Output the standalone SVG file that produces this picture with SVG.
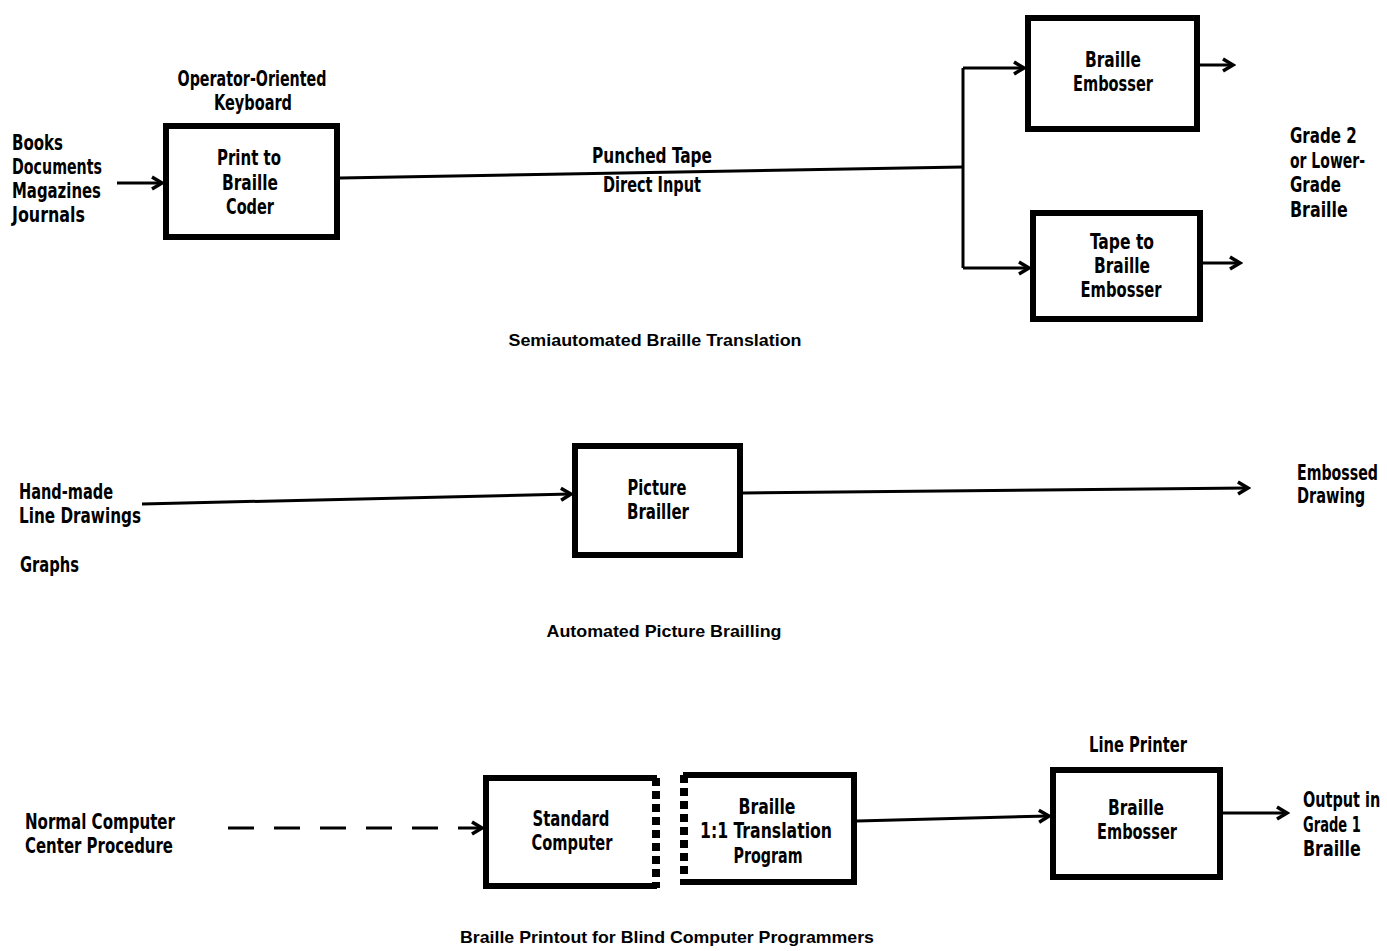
<svg xmlns="http://www.w3.org/2000/svg" width="1387" height="951" viewBox="0 0 1387 951">
<style>
text{font-family:"Liberation Sans Narrow","DejaVu Sans Condensed","Liberation Sans",sans-serif;font-weight:bold;font-size:21px;fill:#000}
.c{text-anchor:middle}
.cap{font-family:"Liberation Sans","DejaVu Sans",sans-serif;font-weight:900;font-size:17px}
.box{fill:#fff;stroke:#000;stroke-width:6;stroke-linejoin:miter}
.dots{fill:none;stroke:#000;stroke-width:8;stroke-dasharray:8 5}
.ln{fill:none;stroke:#000;stroke-width:3}
.arr{fill:none;stroke:#000;stroke-width:3;marker-end:url(#ah)}
.dash{stroke-dasharray:26 20}
</style>
<defs>
<marker id="ah" markerUnits="userSpaceOnUse" markerWidth="16" markerHeight="16" viewBox="-13 -8 16 16" refX="0" refY="0" orient="auto">
<path d="M-10,-6 L0,0 L-10,6" fill="none" stroke="#000" stroke-width="3.5"/>
</marker>
</defs>
<rect width="1387" height="951" fill="#fff"/>

<g id="connectors">
<path class="arr" d="M117,183 L162,183"/>
<path class="ln" d="M340,178 L963,167"/>
<path class="ln" d="M963,68 V268"/>
<path class="arr" d="M963,68 H1024"/>
<path class="arr" d="M963,268 H1029"/>
<path class="arr" d="M1200,65 H1233"/>
<path class="arr" d="M1203,263 H1240"/>
<path class="arr" d="M142,504 L571,494"/>
<path class="arr" d="M743,493 L1248,488"/>
<path class="arr dash" d="M228,828 H482"/>
<path class="arr" d="M857,821 L1049,816"/>
<path class="arr" d="M1223,813 H1287"/>
</g>

<g id="sources">
<text x="12" y="150" textLength="51" lengthAdjust="spacingAndGlyphs">Books</text>
<text x="12" y="174" textLength="90" lengthAdjust="spacingAndGlyphs">Documents</text>
<text x="12" y="198" textLength="89" lengthAdjust="spacingAndGlyphs">Magazines</text>
<text x="12" y="222" textLength="73" lengthAdjust="spacingAndGlyphs">Journals</text>
</g>

<g id="coder">
<text class="c" x="252" y="86" textLength="149" lengthAdjust="spacingAndGlyphs">Operator-Oriented</text>
<text class="c" x="253" y="110" textLength="78" lengthAdjust="spacingAndGlyphs">Keyboard</text>
<rect class="box" x="166" y="126" width="171" height="111"/>
<text class="c" x="249" y="165" textLength="64" lengthAdjust="spacingAndGlyphs">Print to</text>
<text class="c" x="250" y="190" textLength="56" lengthAdjust="spacingAndGlyphs">Braille</text>
<text class="c" x="250" y="214" textLength="48" lengthAdjust="spacingAndGlyphs">Coder</text>
</g>

<g id="line-labels">
<text class="c" x="652" y="163" textLength="120" lengthAdjust="spacingAndGlyphs">Punched Tape</text>
<text class="c" x="652" y="192" textLength="98" lengthAdjust="spacingAndGlyphs">Direct Input</text>
</g>

<g id="embosser1">
<rect class="box" x="1028" y="18" width="169" height="111"/>
<text class="c" x="1113" y="67" textLength="56" lengthAdjust="spacingAndGlyphs">Braille</text>
<text class="c" x="1113" y="91" textLength="80" lengthAdjust="spacingAndGlyphs">Embosser</text>
</g>

<g id="embosser2">
<rect class="box" x="1033" y="213" width="167" height="106"/>
<text class="c" x="1122" y="249" textLength="64" lengthAdjust="spacingAndGlyphs">Tape to</text>
<text class="c" x="1122" y="273" textLength="56" lengthAdjust="spacingAndGlyphs">Braille</text>
<text class="c" x="1121" y="297" textLength="81" lengthAdjust="spacingAndGlyphs">Embosser</text>
</g>

<g id="grade2" transform="translate(1290,0) scale(0.75,1)">
<text x="0" y="143" textLength="89" lengthAdjust="spacingAndGlyphs">Grade 2</text>
<text x="0" y="168" textLength="100" lengthAdjust="spacingAndGlyphs">or Lower-</text>
<text x="0" y="192" textLength="68" lengthAdjust="spacingAndGlyphs">Grade</text>
<text x="0" y="217" textLength="77" lengthAdjust="spacingAndGlyphs">Braille</text>
</g>

<text class="cap c" x="655" y="346" textLength="293" lengthAdjust="spacingAndGlyphs">Semiautomated Braille Translation</text>

<g id="drawings">
<text x="19" y="499" textLength="94" lengthAdjust="spacingAndGlyphs">Hand-made</text>
<text x="19" y="523" textLength="122" lengthAdjust="spacingAndGlyphs">Line Drawings</text>
<text x="20" y="572" textLength="59" lengthAdjust="spacingAndGlyphs">Graphs</text>
</g>

<g id="picture-brailler">
<rect class="box" x="575" y="446" width="165" height="109"/>
<text class="c" x="657" y="495" textLength="59" lengthAdjust="spacingAndGlyphs">Picture</text>
<text class="c" x="658" y="519" textLength="62" lengthAdjust="spacingAndGlyphs">Brailler</text>
</g>

<g id="embossed-drawing" transform="translate(1297,0) scale(0.75,1)">
<text x="0" y="480" textLength="108" lengthAdjust="spacingAndGlyphs">Embossed</text>
<text x="0" y="503" textLength="91" lengthAdjust="spacingAndGlyphs">Drawing</text>
</g>

<text class="cap c" x="664" y="637" textLength="235" lengthAdjust="spacingAndGlyphs">Automated Picture Brailling</text>

<g id="normal-procedure">
<text x="25" y="829" textLength="150" lengthAdjust="spacingAndGlyphs">Normal Computer</text>
<text x="25" y="853" textLength="148" lengthAdjust="spacingAndGlyphs">Center Procedure</text>
</g>

<g id="standard-computer">
<path d="M657,778 H486 V886 H657" fill="#fff" stroke="#000" stroke-width="6"/>
<line class="dots" x1="656" y1="778" x2="656" y2="888"/>
<text class="c" x="571" y="826" textLength="77" lengthAdjust="spacingAndGlyphs">Standard</text>
<text class="c" x="572" y="850" textLength="81" lengthAdjust="spacingAndGlyphs">Computer</text>
</g>

<g id="translation-program">
<path d="M683,775 H854 V882 H683" fill="#fff" stroke="#000" stroke-width="6"/>
<line class="dots" x1="684" y1="775" x2="684" y2="885"/>
<text class="c" x="767" y="814" textLength="57" lengthAdjust="spacingAndGlyphs">Braille</text>
<text class="c" x="766" y="838" textLength="132" lengthAdjust="spacingAndGlyphs">1:1 Translation</text>
<text class="c" x="768" y="863" textLength="69" lengthAdjust="spacingAndGlyphs">Program</text>
</g>

<g id="line-printer">
<text class="c" x="1138" y="752" textLength="98" lengthAdjust="spacingAndGlyphs">Line Printer</text>
<rect class="box" x="1053" y="770" width="167" height="107"/>
<text class="c" x="1136" y="815" textLength="56" lengthAdjust="spacingAndGlyphs">Braille</text>
<text class="c" x="1137" y="839" textLength="80" lengthAdjust="spacingAndGlyphs">Embosser</text>
</g>

<g id="grade1-output" transform="translate(1303,0) scale(0.75,1)">
<text x="0" y="807" textLength="103" lengthAdjust="spacingAndGlyphs">Output in</text>
<text x="0" y="832" textLength="77" lengthAdjust="spacingAndGlyphs">Grade 1</text>
<text x="0" y="856" textLength="77" lengthAdjust="spacingAndGlyphs">Braille</text>
</g>

<text class="cap c" x="667" y="943" textLength="414" lengthAdjust="spacingAndGlyphs">Braille Printout for Blind Computer Programmers</text>
</svg>
